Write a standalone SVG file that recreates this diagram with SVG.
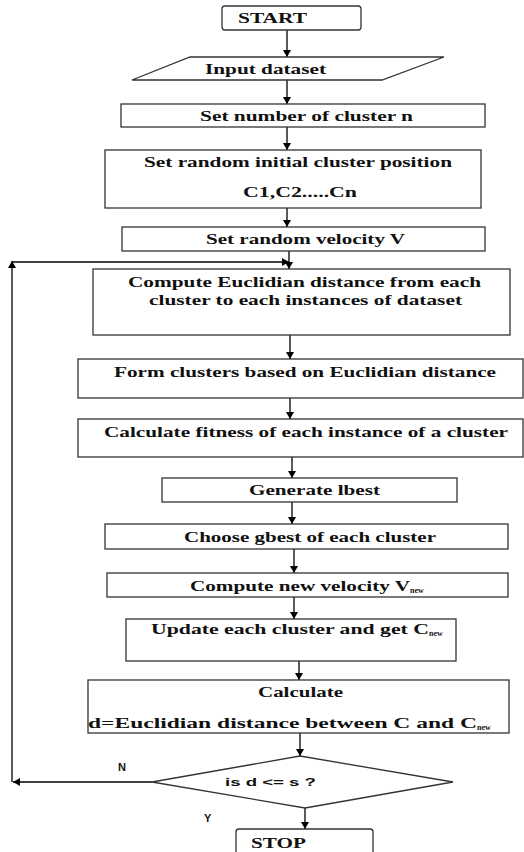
<svg xmlns="http://www.w3.org/2000/svg" width="524" height="852" viewBox="0 0 524 852">
<defs>
<marker id="ah" markerWidth="8" markerHeight="8" refX="7" refY="4" orient="auto" markerUnits="userSpaceOnUse">
<path d="M0,0 L7,4 L0,8 Z" fill="#000"/>
</marker>
<style>
.box{fill:#fff;stroke:#333;stroke-width:1.3}
.t{font-family:"Liberation Serif","Times New Roman",serif;font-weight:bold;font-size:14px;fill:#111;text-anchor:start}
.s{font-family:"Liberation Sans",Arial,sans-serif;font-weight:bold;font-size:11px;fill:#111}
.sub{font-size:8px}
.c{stroke:#000;stroke-width:1.3;fill:none;marker-end:url(#ah)}
.l{stroke:#222;stroke-width:1.3;fill:none}
</style>
</defs>
<rect width="524" height="852" fill="#fff"/>
<g id="connectors">
<line class="c" x1="287" y1="30" x2="287" y2="57"/>
<line class="c" x1="287" y1="80" x2="287" y2="104"/>
<line class="c" x1="287" y1="127" x2="287" y2="150"/>
<line class="c" x1="287" y1="208" x2="287" y2="227"/>
<line class="c" x1="289" y1="251" x2="289" y2="269"/>
<line class="c" x1="290" y1="335" x2="290" y2="359"/>
<line class="c" x1="290" y1="398" x2="290" y2="419"/>
<line class="c" x1="292" y1="457" x2="292" y2="478"/>
<line class="c" x1="292" y1="502" x2="292" y2="524"/>
<line class="c" x1="294" y1="549" x2="294" y2="573"/>
<line class="c" x1="294" y1="597" x2="294" y2="619"/>
<line class="c" x1="299" y1="661" x2="299" y2="680"/>
<line class="c" x1="300" y1="733" x2="300" y2="756"/>
<line class="c" x1="305" y1="808" x2="305" y2="829"/>
<line class="c" x1="152" y1="782" x2="13" y2="782"/>
<line class="c" x1="12" y1="782" x2="12" y2="261"/>
<line class="c" x1="12" y1="262" x2="289" y2="262"/>
</g>
<g id="start">
<rect class="box" x="222" y="6" width="139" height="24" rx="3"/>
<text class="t" x="238" y="23" textLength="69" lengthAdjust="spacingAndGlyphs">START</text>
</g>
<g id="input">
<polygon class="box" points="190,57 444,57 382,80 132,80"/>
<text class="t" x="205" y="74" textLength="121" lengthAdjust="spacingAndGlyphs">Input dataset</text>
</g>
<g id="setn">
<rect class="box" x="121" y="104" width="364" height="23"/>
<text class="t" x="200" y="121" textLength="213" lengthAdjust="spacingAndGlyphs">Set number of cluster n</text>
</g>
<g id="initpos">
<rect class="box" x="105" y="150" width="376" height="58"/>
<text class="t" x="144" y="167" textLength="308" lengthAdjust="spacingAndGlyphs">Set random initial cluster position</text>
<text class="t" x="243" y="197" textLength="114" lengthAdjust="spacingAndGlyphs">C1,C2.....Cn</text>
</g>
<g id="velocity">
<rect class="box" x="122" y="227" width="363" height="24"/>
<text class="t" x="206" y="244" textLength="199" lengthAdjust="spacingAndGlyphs">Set random velocity V</text>
</g>
<g id="euclid">
<rect class="box" x="93" y="269" width="417" height="66"/>
<text class="t" x="128" y="287" textLength="353" lengthAdjust="spacingAndGlyphs">Compute Euclidian distance from each</text>
<text class="t" x="149" y="305" textLength="313" lengthAdjust="spacingAndGlyphs">cluster to each instances of dataset</text>
</g>
<g id="form">
<rect class="box" x="78" y="359" width="445" height="39"/>
<text class="t" x="114" y="377" textLength="382" lengthAdjust="spacingAndGlyphs">Form clusters based on Euclidian distance</text>
</g>
<g id="fitness">
<rect class="box" x="78" y="419" width="445" height="38"/>
<text class="t" x="104" y="437" textLength="404" lengthAdjust="spacingAndGlyphs">Calculate fitness of each instance of a cluster</text>
</g>
<g id="lbest">
<rect class="box" x="162" y="478" width="295" height="24"/>
<text class="t" x="249" y="495" textLength="131" lengthAdjust="spacingAndGlyphs">Generate lbest</text>
</g>
<g id="gbest">
<rect class="box" x="105" y="524" width="403" height="25"/>
<text class="t" x="184" y="542" textLength="252" lengthAdjust="spacingAndGlyphs">Choose gbest of each cluster</text>
</g>
<g id="vnew">
<rect class="box" x="107" y="573" width="401" height="24"/>
<text class="t" x="190" y="591"><tspan textLength="220" lengthAdjust="spacingAndGlyphs">Compute new velocity V</tspan><tspan class="sub" dy="2">new</tspan></text>
</g>
<g id="update">
<rect class="box" x="126" y="619" width="330" height="42"/>
<text class="t" x="151" y="634"><tspan textLength="278" lengthAdjust="spacingAndGlyphs">Update each cluster and get C</tspan><tspan class="sub" dy="2">new</tspan></text>
</g>
<g id="calc">
<rect class="box" x="88" y="680" width="421" height="53"/>
<text class="t" x="258" y="697" textLength="85" lengthAdjust="spacingAndGlyphs">Calculate</text>
<text class="t" x="88" y="728"><tspan textLength="389" lengthAdjust="spacingAndGlyphs">d=Euclidian distance between C and C</tspan><tspan class="sub" dy="2">new</tspan></text>
</g>
<g id="decision">
<polygon class="box" points="300,756 453,782 305,808 152,782"/>
<text class="s" x="225" y="786" textLength="91" lengthAdjust="spacingAndGlyphs">is d &lt;= s ?</text>
</g>
<g id="stop">
<rect class="box" x="236" y="829" width="137" height="30" rx="3"/>
<text class="t" x="251" y="848" textLength="55" lengthAdjust="spacingAndGlyphs">STOP</text>
</g>
<g id="labels">
<text class="s" x="118" y="771">N</text>
<text class="s" x="204" y="822">Y</text>
</g>
</svg>
